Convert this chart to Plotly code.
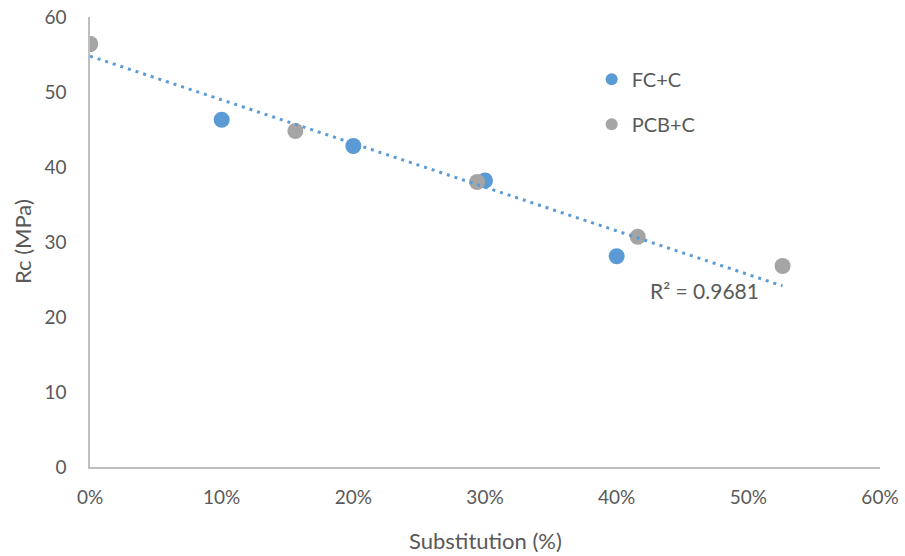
import numpy as np
import plotly.graph_objects as go

# Data
fc_x = [0.0, 0.10, 0.20, 0.30, 0.40]
fc_y = [56.4, 46.3, 42.8, 38.2, 28.1]
pcb_x = [0.0, 0.156, 0.294, 0.416, 0.526]
pcb_y = [56.4, 44.8, 38.0, 30.7, 26.8]
series_names = ["FC+C", "PCB+C"]
r2_label = "R² = 0.9681"
x_ticks = [0, 0.1, 0.2, 0.3, 0.4, 0.5, 0.6]
y_ticks = [0, 10, 20, 30, 40, 50, 60]

# Linear trendline over all points
all_x = np.array(fc_x + pcb_x)
all_y = np.array(fc_y + pcb_y)
slope, intercept = np.polyfit(all_x, all_y, 1)
tx = np.array([all_x.min(), all_x.max()])
ty = slope * tx + intercept

BLUE = "#5B9BD5"
GRAY = "#A5A5A5"
TXT = "#595959"
FONT = "Lato"

fig = go.Figure()
fig.add_trace(go.Scatter(x=fc_x, y=fc_y, mode="markers", name=series_names[0],
                         marker=dict(color=BLUE, size=16), legendgroup="a"))
fig.add_trace(go.Scatter(x=pcb_x, y=pcb_y, mode="markers", name=series_names[1],
                         marker=dict(color=GRAY, size=16), legendgroup="b"))
fig.add_trace(go.Scatter(x=tx, y=ty, mode="lines", showlegend=False,
                         line=dict(color=BLUE, width=3, dash="3px,5px")))

fig.add_annotation(x=0.467, y=23.6, xref="x", yref="y", text=r2_label,
                   showarrow=False, font=dict(family=FONT, size=21, color=TXT))
# axis titles
fig.add_annotation(x=0.5, y=0, xref="paper", yref="paper", yshift=-73,
                   xanchor="center", yanchor="middle",
                   text="Substitution (%)", showarrow=False,
                   font=dict(family=FONT, size=22, color=TXT))
fig.add_annotation(x=0, y=0.5, xref="paper", yref="paper", xshift=-68,
                   xanchor="center", yanchor="middle",
                   text="Rc (MPa)", showarrow=False, textangle=-90,
                   font=dict(family=FONT, size=22, color=TXT))

fig.update_layout(
    width=905, height=556,
    margin=dict(l=90, r=25, t=17, b=89),
    plot_bgcolor="white", paper_bgcolor="white",
    font=dict(family=FONT, color=TXT, size=20),
    showlegend=True,
    legend=dict(x=0.635, y=0.905, xanchor="left", yanchor="top",
                font=dict(size=20, color=TXT), tracegroupgap=16,
                itemsizing="constant", bgcolor="rgba(0,0,0,0)"),
    xaxis=dict(range=[0, 0.6], tickvals=x_ticks, tickformat=".0%",
               showgrid=False, zeroline=False, showline=True, automargin=False,
               linecolor="#BFBFBF", linewidth=1.5, ticks="", ticklabelstandoff=12,
               ticklabeloverflow="allow",
               tickfont=dict(size=19, color=TXT)),
    yaxis=dict(range=[0, 60], tickvals=y_ticks,
               showgrid=False, zeroline=False, showline=True, automargin=False,
               linecolor="#BFBFBF", linewidth=1.5, ticks="", ticklabelstandoff=18,
               ticklabeloverflow="allow",
               tickfont=dict(size=19, color=TXT)),
)

fig.write_html("out.html", config={"displayModeBar": False},
               post_script="document.body.style.margin='0';")
